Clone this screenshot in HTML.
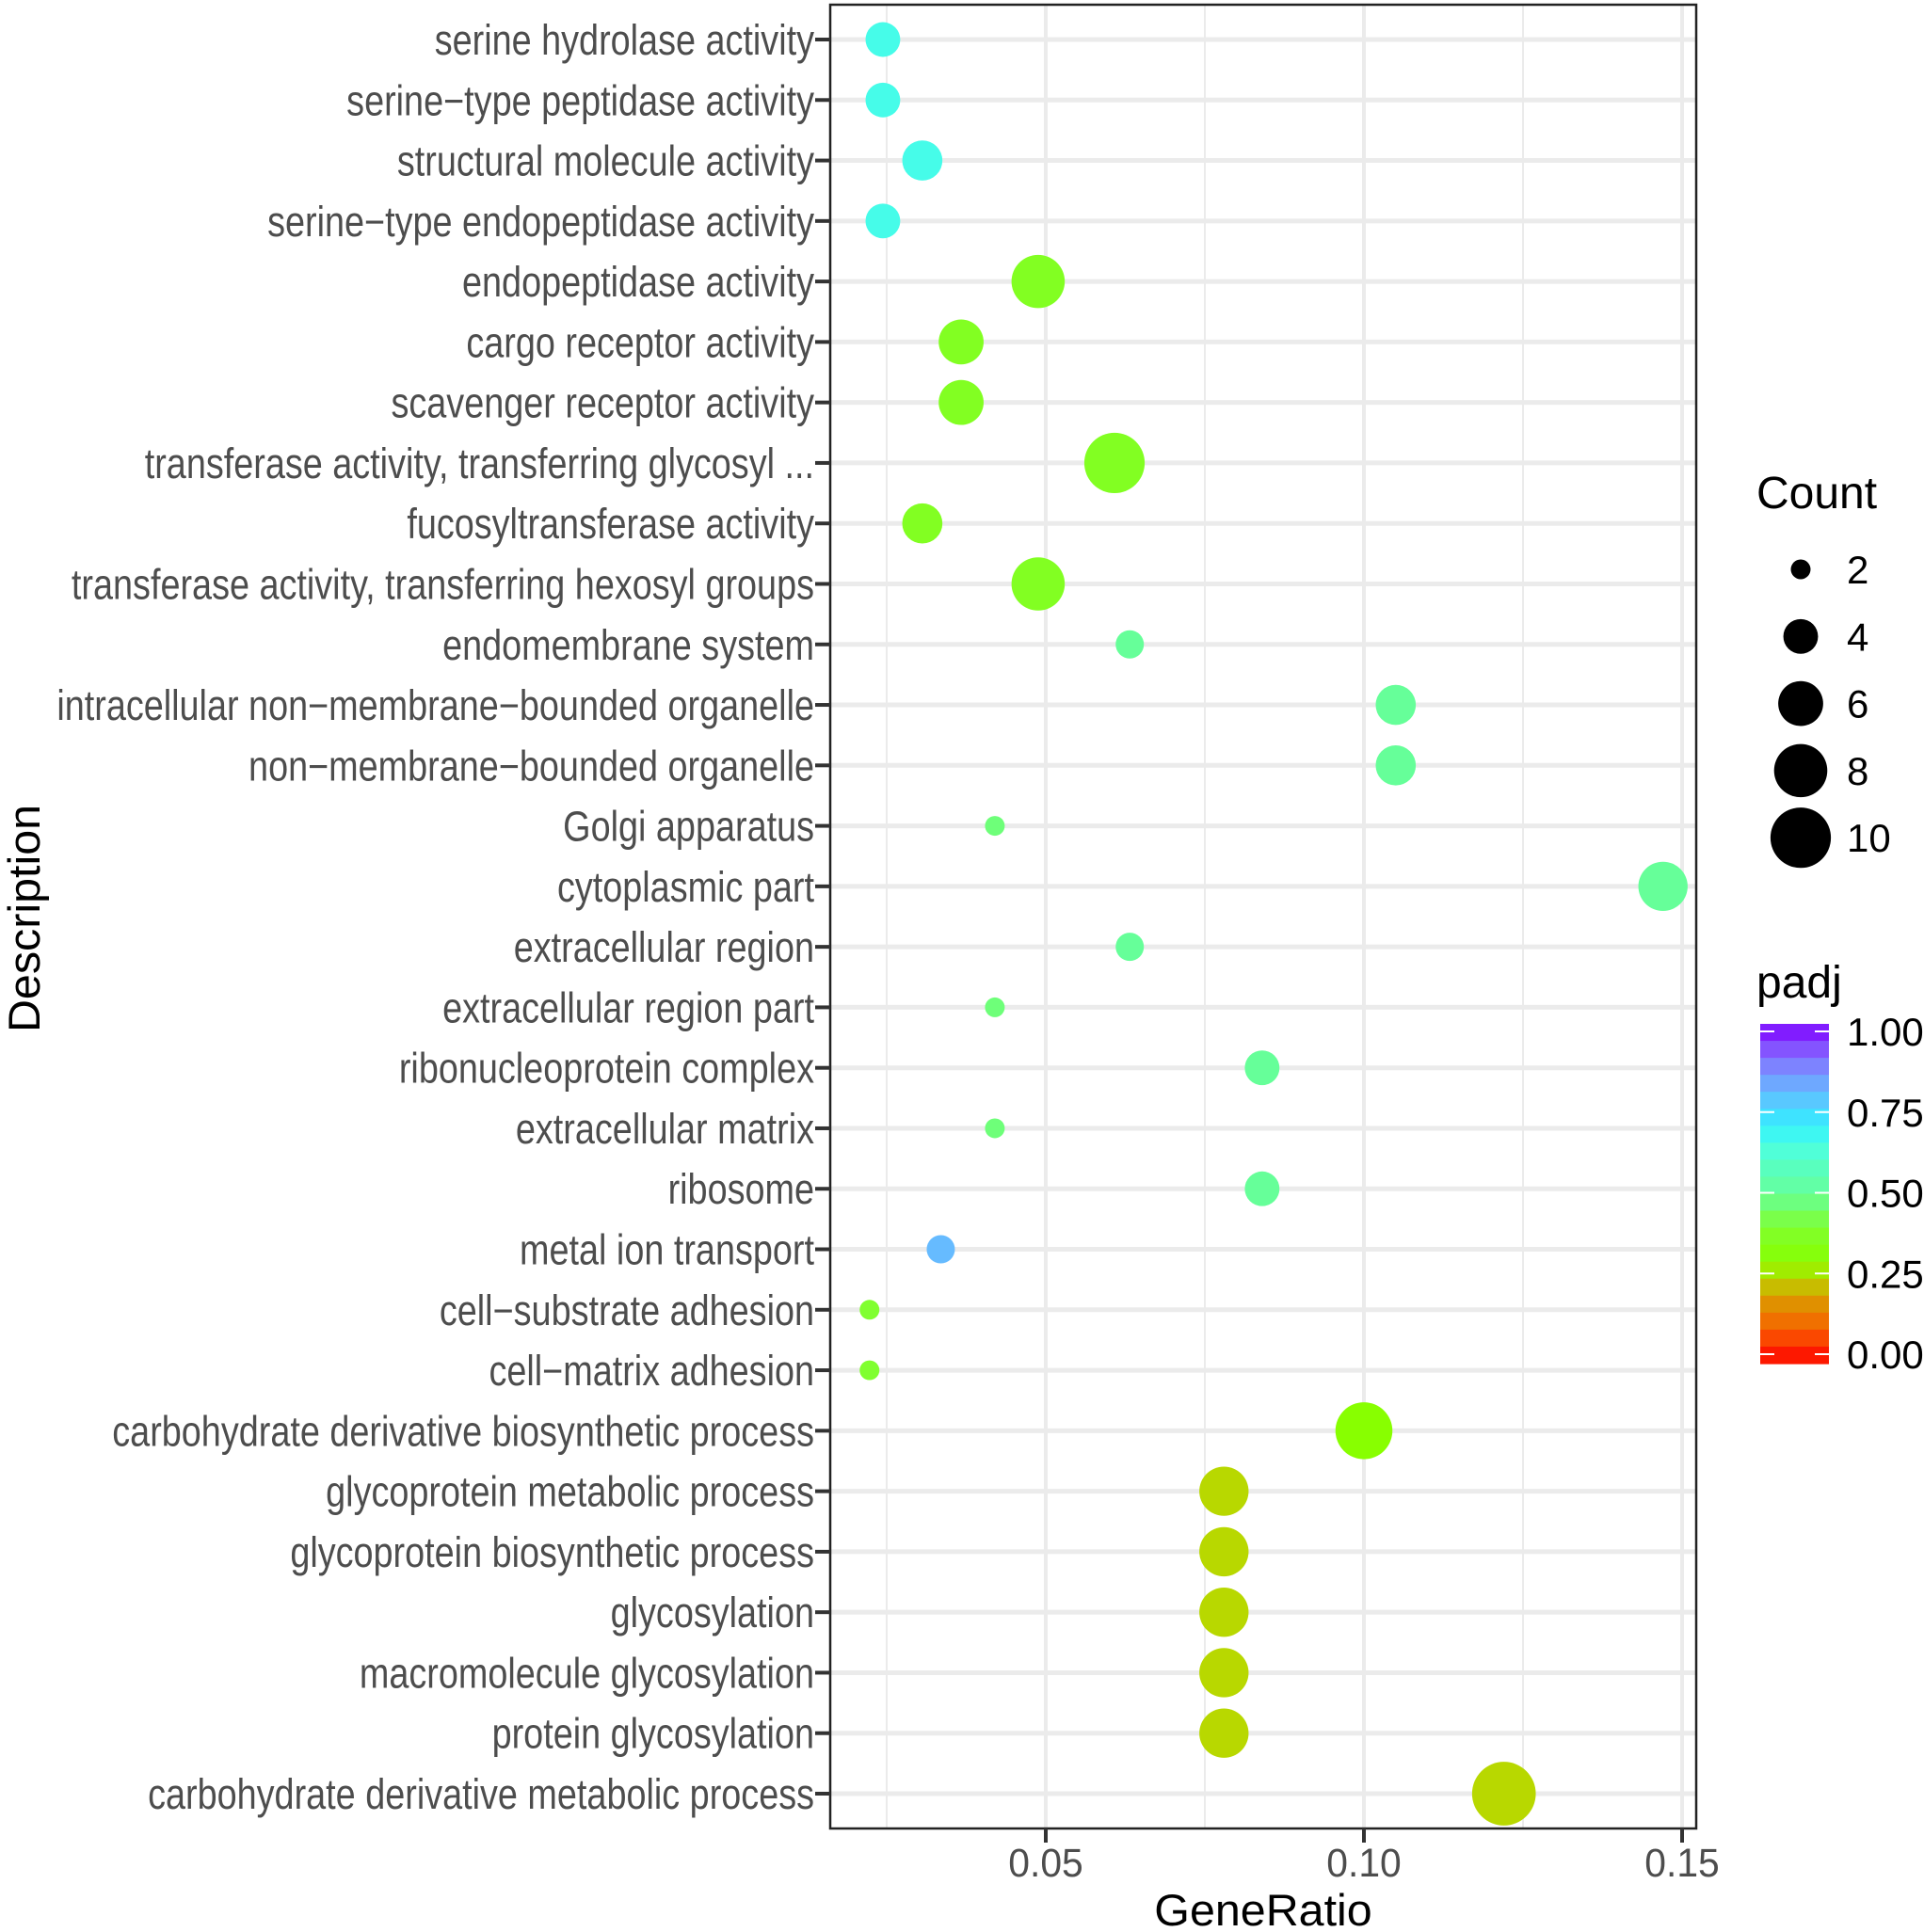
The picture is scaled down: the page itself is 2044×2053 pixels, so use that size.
<!DOCTYPE html>
<html><head><meta charset="utf-8"><style>
html,body{margin:0;padding:0;background:#fff}
svg{display:block}
text{font-family:"Liberation Sans",Arial,sans-serif}
</style></head><body>
<svg id="chart" width="2044" height="2053" viewBox="0 0 2044 2053" xmlns="http://www.w3.org/2000/svg">
<g id="grid"></g>
<g id="marks"></g>
<rect x="882" y="5" width="920" height="1938" fill="none" stroke="#222" stroke-width="2.5"/>
<g id="yaxis"></g>
<g id="xaxis"></g>
<text x="0" y="0" font-size="47" text-anchor="middle" fill="#000" transform="translate(1342,2046) scale(1.03,1)">GeneRatio</text>
<text x="0" y="0" font-size="47" text-anchor="middle" fill="#000" transform="translate(42,976) rotate(-90) scale(1.03,1)">Description</text>
<g id="legend"></g>
<g id="cbar"></g>
</svg>
<script>
const categories = ["serine hydrolase activity","serine\u2212type peptidase activity","structural molecule activity","serine\u2212type endopeptidase activity","endopeptidase activity","cargo receptor activity","scavenger receptor activity","transferase activity, transferring glycosyl ...","fucosyltransferase activity","transferase activity, transferring hexosyl groups","endomembrane system","intracellular non\u2212membrane\u2212bounded organelle","non\u2212membrane\u2212bounded organelle","Golgi apparatus","cytoplasmic part","extracellular region","extracellular region part","ribonucleoprotein complex","extracellular matrix","ribosome","metal ion transport","cell\u2212substrate adhesion","cell\u2212matrix adhesion","carbohydrate derivative biosynthetic process","glycoprotein metabolic process","glycoprotein biosynthetic process","glycosylation","macromolecule glycosylation","protein glycosylation","carbohydrate derivative metabolic process"];
const geneRatio = [0.0244,0.0244,0.0306,0.0244,0.0488,0.0367,0.0367,0.0608,0.0306,0.0488,0.0632,0.105,0.105,0.042,0.147,0.0632,0.042,0.084,0.042,0.084,0.0335,0.0223,0.0223,0.100,0.078,0.078,0.078,0.078,0.078,0.122];
const counts = [4,4,5,4,8,6,6,10,5,8,3,5,5,2,7,3,2,4,2,4,3,2,2,9,7,7,7,7,7,11];
const padj = [0.66,0.66,0.66,0.66,0.37,0.37,0.37,0.37,0.37,0.37,0.5,0.5,0.5,0.47,0.5,0.5,0.47,0.5,0.47,0.5,0.8,0.4,0.4,0.3,0.25,0.25,0.25,0.25,0.25,0.25];
const xTicks = [0.05,0.10,0.15];
const xTickLabels = ["0.05","0.10","0.15"];
const xMinor = [0.025,0.075,0.125];
const legendCounts = [2,4,6,8,10];
const cbarTicks = [0,0.25,0.5,0.75,1];
const cbarLabels = ["0.00","0.25","0.50","0.75","1.00"];

const NS="http://www.w3.org/2000/svg";
const X = v => 773 + v*6760;
const Y = i => 42 + i*(1906-42)/29;
const R = c => Math.sqrt(Math.max(4, -120 + 115*c));
const stops=[[0,[255,0,0]],[0.1,[248,96,0]],[0.2,[216,160,0]],[0.25,[184,216,0]],[0.3,[136,255,0]],[0.4,[128,255,48]],[0.5,[102,255,153]],[0.65,[76,255,228]],[0.7,[48,240,255]],[0.8,[102,187,255]],[0.9,[133,112,255]],[1,[128,0,255]]];
function col(p){for(let i=1;i<stops.length;i++){if(p<=stops[i][0]){const a=stops[i-1],b=stops[i],t=(p-a[0])/(b[0]-a[0]);return 'rgb('+a[1].map((c,k)=>Math.round(c+(b[1][k]-c)*t)).join(',')+')';}}return 'rgb(128,0,255)';}
function mk(tag,attrs,parent){const e=document.createElementNS(NS,tag);for(const k in attrs)e.setAttribute(k,attrs[k]);parent.appendChild(e);return e;}

const grid=document.getElementById('grid');
mk('rect',{x:882,y:5,width:920,height:1938,fill:'#fff'},grid);
xMinor.forEach(v=>{const l=mk('line',{x1:X(v),x2:X(v),y1:5,y2:1943,stroke:'#ebebeb','stroke-width':2},grid);

});
xTicks.forEach(v=>{const l=mk('line',{x1:X(v),x2:X(v),y1:5,y2:1943,stroke:'#ebebeb','stroke-width':4},grid);

});
categories.forEach((c,i)=>{const l=mk('line',{x1:882,x2:1802,y1:Y(i),y2:Y(i),stroke:'#ebebeb','stroke-width':5},grid);

});

const marks=document.getElementById('marks');
categories.forEach((c,i)=>{const e=mk('circle',{cx:X(geneRatio[i]),cy:Y(i),r:R(counts[i]),fill:col(padj[i])},marks);

});

const ya=document.getElementById('yaxis');
categories.forEach((c,i)=>{mk('line',{x1:866,x2:882,y1:Y(i),y2:Y(i),stroke:'#333','stroke-width':4},ya);
const t=mk('text',{x:0,y:0,'font-size':45,fill:'#4d4d4d','text-anchor':'end',transform:'translate(865,'+(Y(i)+16)+') scale(0.84,1)'},ya);t.textContent=c;

});

const xa=document.getElementById('xaxis');
xTicks.forEach((v,i)=>{mk('line',{x1:X(v),x2:X(v),y1:1943,y2:1958,stroke:'#333','stroke-width':4},xa);
const t=mk('text',{x:0,y:0,'font-size':43,fill:'#4d4d4d','text-anchor':'middle',transform:'translate('+X(v)+',1994) scale(0.95,1)'},xa);t.textContent=xTickLabels[i];

});

const lg=document.getElementById('legend');
const lt=mk('text',{x:1866,y:540,'font-size':48,fill:'#000'},lg);lt.textContent='Count';


legendCounts.forEach((c,i)=>{const y=605+i*71.3;
const e=mk('circle',{cx:1913,cy:y,r:R(c),fill:'#000'},lg);


const t=mk('text',{x:1962,y:y+15,'font-size':42,fill:'#000'},lg);t.textContent=String(c);

});

const cb=document.getElementById('cbar');
const pt=mk('text',{x:1866,y:1060,'font-size':48,fill:'#000'},cb);pt.textContent='padj';


const cbTop=1088,cbBot=1449,nBins=20;
for(let k=0;k<nBins;k++){const p=1-(k+0.5)/nBins;mk('rect',{x:1870,y:cbTop+k*(cbBot-cbTop)/nBins,width:73,height:(cbBot-cbTop)/nBins+0.6,fill:col(p)},cb);}
const CY=v=>1439-v*(1439-1096);
cbarTicks.forEach((v,i)=>{mk('line',{x1:1870,x2:1885,y1:CY(v),y2:CY(v),stroke:'#fff','stroke-width':2},cb);
mk('line',{x1:1928,x2:1943,y1:CY(v),y2:CY(v),stroke:'#fff','stroke-width':2},cb);
const t=mk('text',{x:1962,y:CY(v)+15,'font-size':42,fill:'#000'},cb);t.textContent=cbarLabels[i];

});
</script>
</body></html>
